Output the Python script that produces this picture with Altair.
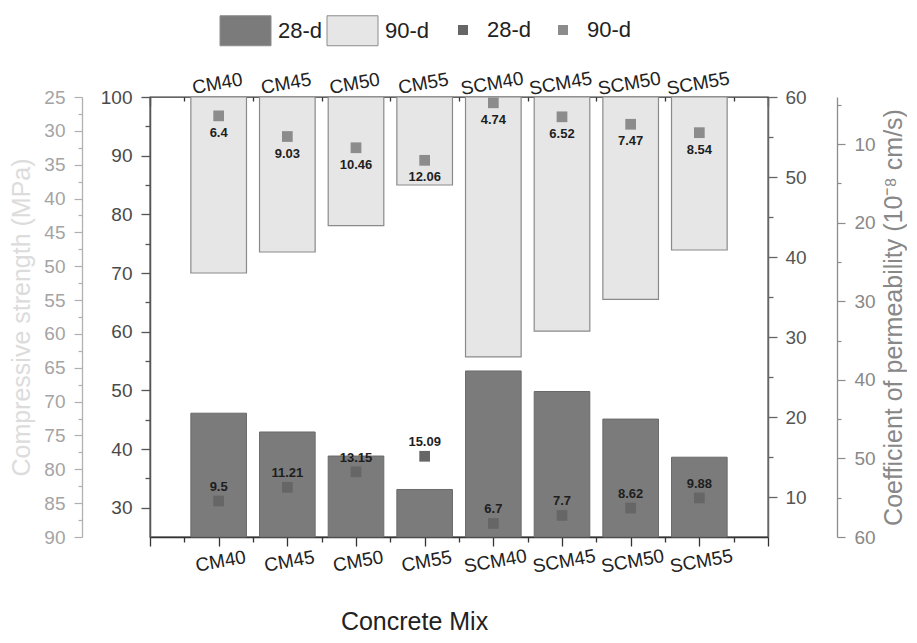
import altair as alt
import pandas as pd

FONT = "Liberation Sans"

# ---------------- data ----------------
mixes = ["CM40", "CM45", "CM50", "CM55", "SCM40", "SCM45", "SCM50", "SCM55"]
ages = ["28-d", "90-d"]
strength_28d = [46.1, 42.9, 38.8, 33.1, 53.3, 49.8, 45.1, 38.6]
strength_90d = [51.0, 47.9, 44.0, 38.0, 63.4, 59.6, 54.9, 47.6]
perm_28d = [9.5, 11.21, 13.15, 15.09, 6.7, 7.7, 8.62, 9.88]
perm_90d = [6.4, 9.03, 10.46, 12.06, 4.74, 6.52, 7.47, 8.54]

# axis tick values
x_major_ticks = list(range(0, len(mixes) + 2))
x_minor_ticks = [v + 0.5 for v in range(0, len(mixes) + 1)]
x_all_ticks = sorted(x_major_ticks + x_minor_ticks)
left_inner_ticks = list(range(30, 101, 5))
left_outer_ticks = [25 + 2.5 * i for i in range(27)]
right_inner_ticks = list(range(10, 61, 5))
right_outer_ticks = list(range(5, 61, 5))

perm_series = [f"{a} permeability" for a in ages]
positions = list(range(1, len(mixes) + 1))
df28 = pd.DataFrame({"mix": mixes, "pos": positions, "age": ages[0], "pser": perm_series[0],
                     "strength": strength_28d, "perm": perm_28d,
                     "label": [str(v) for v in perm_28d]})
df90 = pd.DataFrame({"mix": mixes, "pos": positions, "age": ages[1], "pser": perm_series[1],
                     "strength": strength_90d, "perm": perm_90d,
                     "label": [str(v) for v in perm_90d]})

BAR_HALF = 0.405
X_SCALE = alt.Scale(domain=[0, len(mixes) + 1], nice=False, zero=False)
label_array = "[" + ",".join(f"'{m}'" for m in mixes) + "]"
label_expr = (f"(datum.value % 1 === 0 && datum.value >= 1 && datum.value <= {len(mixes)})"
              f" ? {label_array}[datum.value - 1] : ''")


def ticksize(mod, big, small):
    return {"condition": {"test": f"datum.value % {mod} === 0", "value": big}, "value": small}


def lab(mod):
    return f"datum.value % {mod} === 0 ? datum.label : ''"


bottom_axis = alt.Axis(orient="bottom", values=x_all_ticks, labelExpr=label_expr,
                       tickSize=ticksize(1, 9, 5), labelAngle=350, labelAlign="center",
                       labelBaseline="top", labelPadding=6, labelFontSize=19,
                       labelColor="#222", labelOverlap=False, labelFlush=False,
                       domainColor="#333", domainWidth=1.5, tickColor="#333", tickWidth=1.3,
                       titleFontSize=25, titleFontWeight="normal", titleColor="#222",
                       titleX=264, titleY=72, titleAlign="center", titleBaseline="top")
top_major_axis = alt.Axis(orient="top", values=x_major_ticks, labelExpr=label_expr,
                          offset=-9, domain=False, tickSize=9, tickColor="#333", tickWidth=1.3,
                          labelPadding=4, labelAngle=350, labelAlign="center",
                          labelBaseline="bottom", labelFontSize=19, labelColor="#222",
                          labelOverlap=False, labelFlush=False, title=None)
top_minor_axis = alt.Axis(orient="top", values=x_minor_ticks, labels=False, offset=-4,
                          domain=False, tickSize=4, tickColor="#333", tickWidth=1.3, title=None)

left_inner_axis = alt.Axis(orient="left", offset=0, values=left_inner_ticks, labelExpr=lab(10),
                           tickSize=ticksize(10, 9, 5), labelPadding=9, labelFontSize=19,
                           labelColor="#4a4a4a", domainColor="#555", domainWidth=1.5,
                           tickColor="#555", tickWidth=1.3, title=None, labelOverlap=False)
left_outer_axis = alt.Axis(orient="left", offset=68, values=left_outer_ticks, labelExpr=lab(5),
                           tickSize=ticksize(5, 8, 4), labelPadding=9, labelFontSize=19,
                           labelColor="#a4a4a4", domainColor="#b0b0b0", domainWidth=1.3,
                           tickColor="#b0b0b0", tickWidth=1.2,
                           title="Compressive strength (MPa)", titleFontSize=25,
                           titleFontWeight="normal", titleColor="#dcdcdc", titlePadding=9,
                           labelOverlap=False)
right_inner_axis = alt.Axis(orient="right", offset=0, values=right_inner_ticks, labelExpr=lab(10),
                            tickSize=ticksize(10, 9, 5), labelPadding=8, labelFontSize=19,
                            labelColor="#555", domainColor="#666", domainWidth=1.5,
                            tickColor="#666", tickWidth=1.3, title=None, labelOverlap=False)
right_outer_axis = alt.Axis(orient="right", offset=69, values=right_outer_ticks, labelExpr=lab(10),
                            tickSize=ticksize(10, 8, 4), labelPadding=9, labelFontSize=19,
                            labelColor="#888", domainColor="#8c8c8c", domainWidth=1.3,
                            tickColor="#8c8c8c", tickWidth=1.2,
                            title="Coefficient of permeability (10\u207b\u2078 cm/s)",
                            titleFontSize=25, titleFontWeight="normal", titleColor="#888",
                            titleAngle=270, titleBaseline="top", titlePadding=6,
                            labelOverlap=False)

fill_scale = alt.Scale(domain=ages, range=["#7b7b7b", "#e6e6e6"])
color_scale = alt.Scale(domain=perm_series, range=["#666666", "#8c8c8c"])

bar_legend = alt.Legend(orient="none", legendX=80, legendY=-82, direction="horizontal",
                        title=None, symbolType="M-1.7,-1H1.7V1H-1.7Z", symbolSize=900,
                        symbolStrokeColor="#8c8c8c", symbolStrokeWidth=1, symbolOpacity=1,
                        labelFontSize=22, labelFont=FONT, labelColor="#222",
                        labelOffset=17, columnPadding=2, padding=0)
pt_legend = alt.Legend(orient="none", legendX=302, legendY=-78, direction="horizontal",
                       title=None, symbolType="square", symbolSize=100, symbolStrokeWidth=0,
                       symbolOpacity=1, labelFontSize=22, labelFont=FONT, labelColor="#222",
                       labelOffset=13, columnPadding=20, padding=0,
                       labelExpr="split(datum.label, ' ')[0]")

dark_bars = alt.Chart(df28).transform_calculate(
    x0=f"datum.pos - {BAR_HALF}", x1=f"datum.pos + {BAR_HALF}"
).mark_bar(stroke="#6a6a6a", strokeWidth=1).encode(
    x=alt.X("x0:Q", scale=X_SCALE, axis=bottom_axis, title="Concrete Mix"),
    x2="x1:Q",
    y=alt.Y("strength:Q", scale=alt.Scale(domain=[25, 100], nice=False, zero=False),
            axis=left_inner_axis),
    y2=alt.Y2(datum=25),
    fill=alt.Fill("age:N", scale=fill_scale, legend=bar_legend),
)

light_bars = alt.Chart(df90).transform_calculate(
    x0=f"datum.pos - {BAR_HALF}", x1=f"datum.pos + {BAR_HALF}"
).mark_bar(stroke="#8a8a8a", strokeWidth=1.2).encode(
    x=alt.X("x0:Q", scale=X_SCALE, axis=top_major_axis),
    x2="x1:Q",
    y=alt.Y("strength:Q", scale=alt.Scale(domain=[25, 90], nice=False, zero=False, reverse=True),
            axis=left_outer_axis),
    y2=alt.Y2(datum=25),
    fill=alt.Fill("age:N", scale=fill_scale, legend=bar_legend),
)

P28_SCALE = alt.Scale(domain=[5, 60], nice=False, zero=False)
P90_SCALE = alt.Scale(domain=[4, 60], nice=False, zero=False, reverse=True)

pts28 = alt.Chart(df28).mark_square(size=115, filled=True, opacity=1).encode(
    x=alt.X("pos:Q", scale=X_SCALE, axis=top_minor_axis),
    y=alt.Y("perm:Q", scale=P28_SCALE, axis=right_inner_axis),
    color=alt.Color("pser:N", scale=color_scale, legend=pt_legend),
)
txt28 = alt.Chart(df28).mark_text(font=FONT, fontSize=13, fontWeight="bold", color="#1e1e1e",
                                  dy=-14, baseline="middle").encode(
    x=alt.X("pos:Q", scale=X_SCALE, axis=None),
    y=alt.Y("perm:Q", scale=P28_SCALE, axis=None),
    text="label:N",
)
pts90 = alt.Chart(df90).mark_square(size=115, filled=True, opacity=1).encode(
    x=alt.X("pos:Q", scale=X_SCALE, axis=None),
    y=alt.Y("perm:Q", scale=P90_SCALE, axis=right_outer_axis),
    color=alt.Color("pser:N", scale=color_scale, legend=pt_legend),
)
txt90 = alt.Chart(df90).mark_text(font=FONT, fontSize=13, fontWeight="bold", color="#1e1e1e",
                                  dy=17, baseline="middle").encode(
    x=alt.X("pos:Q", scale=X_SCALE, axis=None),
    y=alt.Y("perm:Q", scale=P90_SCALE, axis=None),
    text="label:N",
)

chart = alt.layer(dark_bars, light_bars, pts28, txt28, pts90, txt90).resolve_scale(
    x="independent", y="independent"
).properties(
    width=618, height=440,
    padding={"left": 1, "top": 7, "right": 0, "bottom": 0},
    background="white",
).configure_view(
    stroke="#333", strokeWidth=1.3
).configure_axis(
    grid=False, labelFont=FONT, titleFont=FONT
).configure_legend(
    labelFont=FONT
)

chart.save("out.html", embed_options={"renderer": "svg", "actions": False})
